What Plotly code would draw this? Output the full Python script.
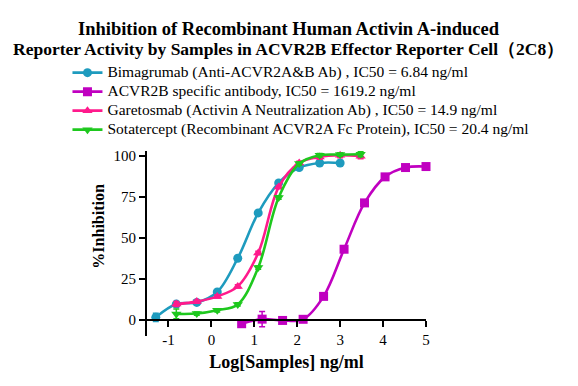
import plotly.graph_objects as go

# ---- data (log10 concentration, ng/ml) ----
log_bimagrumab = [-1.295, -0.817, -0.34, 0.137, 0.614, 1.091, 1.568, 2.046, 2.523, 3.0]
inh_bimagrumab = [1.4, 9.5, 10.5, 16.9, 37.5, 65.2, 83.5, 92.9, 95.7, 95.7]
err_bimagrumab = [2.5, 1.0, 1.0, 1.0, 1.0, 1.0, 1.0, 1.0, 1.0, 1.0]

log_acvr2b = [0.705, 1.182, 1.659, 2.137, 2.614, 3.091, 3.568, 4.046, 4.523, 5.0]
inh_acvr2b = [-2.5, 0.3, -0.5, 0.2, 14.2, 43.0, 71.3, 87.2, 92.9, 93.5]
err_acvr2b = [1.0, 4.7, 1.0, 1.0, 1.5, 1.0, 1.0, 1.0, 1.0, 1.0]

log_garetosmab = [-0.817, -0.34, 0.137, 0.614, 1.091, 1.568, 2.046, 2.523, 3.0, 3.477]
inh_garetosmab = [9.5, 11.0, 14.2, 20.3, 40.7, 81.0, 95.7, 99.4, 100.4, 99.8]
err_garetosmab = [1.5, 1.0, 1.0, 1.0, 1.0, 1.0, 1.0, 1.5, 1.5, 1.5]

log_sotatercept = [-0.817, -0.34, 0.137, 0.614, 1.091, 1.568, 2.046, 2.523, 3.0, 3.477]
inh_sotatercept = [3.5, 3.7, 5.7, 9.3, 31.8, 74.6, 95.3, 100.4, 100.8, 101.0]
err_sotatercept = [3.0, 1.0, 1.0, 1.0, 1.0, 1.0, 1.0, 1.0, 1.0, 1.5]

names = [
    "Bimagrumab (Anti-ACVR2A&B Ab) , IC50 = 6.84 ng/ml",
    "ACVR2B specific antibody, IC50 = 1619.2 ng/ml",
    "Garetosmab (Activin A Neutralization Ab) , IC50 = 14.9 ng/ml",
    "Sotatercept (Recombinant ACVR2A Fc Protein), IC50 = 20.4 ng/ml",
]
colors = ["#1E9BBE", "#C000C0", "#FF1A8C", "#1EC81E"]
symbols = ["circle", "square", "triangle-up", "triangle-down"]

title_line1 = "Inhibition of Recombinant Human Activin A-induced"
title_line2 = "Reporter Activity by Samples in ACVR2B Effector Reporter Cell（2C8）"
x_title = "Log[Samples] ng/ml"
y_title = "%Inhibition"

x_ticks = [-1, 0, 1, 2, 3, 4, 5]
y_ticks = [0, 25, 50, 75, 100]

series = [
    (log_bimagrumab, inh_bimagrumab, err_bimagrumab),
    (log_acvr2b, inh_acvr2b, err_acvr2b),
    (log_garetosmab, inh_garetosmab, err_garetosmab),
    (log_sotatercept, inh_sotatercept, err_sotatercept),
]

SERIF = "Liberation Serif"
# figure is drawn inside the page body (8px default margin)
W, H = 570, 378
L, R, T, B = 138.7, 151.7, 142.8, 50.3
PW, PH = W - L - R, H - T - B


def px(x):
    return (x - L) / PW


def py(y):
    return (H - B - y) / PH


fig = go.Figure()
for (xs, ys, es), nm, col, sym in zip(series, names, colors, symbols):
    fig.add_trace(go.Scatter(
        x=xs, y=ys, name='<span style="font-size:15.5px">' + nm + '</span>',
        mode="lines+markers",
        line=dict(color=col, width=2.6, shape="spline", smoothing=1.0),
        marker=dict(color=col, symbol=sym, size=9),
        error_y=dict(type="data", array=es, color=col, thickness=1.5, width=3),
        cliponaxis=False,
    ))

y_range = [-10, 103]
fig.update_layout(
    width=W, height=H,
    paper_bgcolor="white", plot_bgcolor="white",
    margin=dict(l=L, r=R, t=T, b=B, autoexpand=False),
    font=dict(family=SERIF, color="black", size=14),
    title=dict(
        text="<b>" + title_line1 + "</b>",
        xref="container", yref="container",
        x=280.5 / W, xanchor="center", y=1 - 20.8 / H, yanchor="middle",
        font=dict(family=SERIF, size=18.5, color="black"),
    ),
    legend=dict(
        x=px(59), y=py(50),
        xanchor="left", yanchor="top",
        font=dict(family=SERIF, size=12, color="black"),
        bgcolor="rgba(0,0,0,0)", itemwidth=30,
    ),
    xaxis=dict(
        range=[-1.5, 5], tickvals=x_ticks, ticktext=[str(v) for v in x_ticks],
        showline=True, linecolor="black", linewidth=2,
        ticks="outside", ticklen=6, tickwidth=2, tickcolor="black",
        showgrid=False, zeroline=False, automargin=False,
        anchor="free", position=(0 - y_range[0]) / (y_range[1] - y_range[0]),
        tickfont=dict(family=SERIF, size=15),
        title=dict(text="<b>" + x_title + "</b>", font=dict(family=SERIF, size=18), standoff=8),
    ),
    yaxis=dict(
        range=y_range, tickvals=y_ticks, ticktext=[str(v) for v in y_ticks],
        showline=True, linecolor="black", linewidth=2,
        ticks="outside", ticklen=6, tickwidth=2, tickcolor="black",
        showgrid=False, zeroline=False, automargin=False,
        tickfont=dict(family=SERIF, size=15),
    ),
    annotations=[
        dict(
            text="<b>" + title_line2 + "</b>",
            xref="paper", yref="paper", x=px(280.5), y=py(41),
            xanchor="center", yanchor="middle", showarrow=False,
            font=dict(family=SERIF, size=17.5, color="black"),
        ),
        dict(
            text="<b>" + y_title + "</b>", textangle=-90,
            xref="paper", yref="paper", x=px(90), y=py(218),
            xanchor="center", yanchor="middle", showarrow=False,
            font=dict(family=SERIF, size=16, color="black"),
        ),
    ],
)

fig.write_html("out.html")
